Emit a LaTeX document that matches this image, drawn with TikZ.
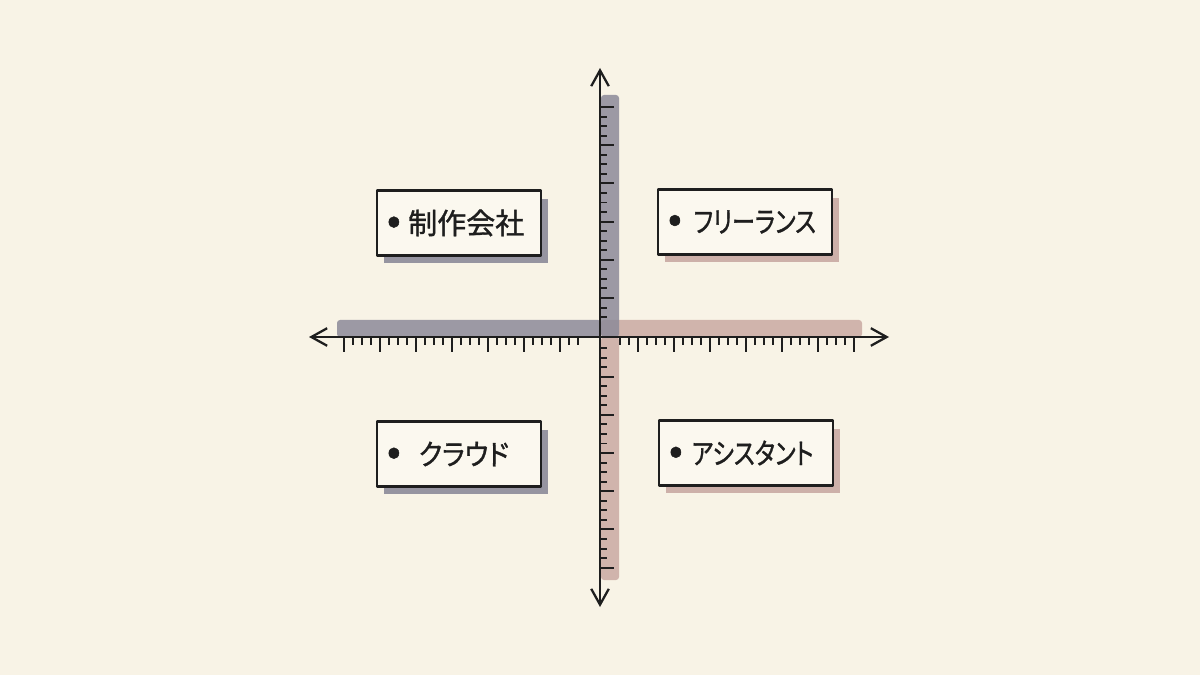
\documentclass[tikz,border=0pt]{standalone}
\usepackage{fontspec}
\newfontfamily\jp[RawFeature=+palt, AutoFakeBold=1.2]{Noto Sans CJK JP}
\usetikzlibrary{arrows.meta,shadows,positioning}
\definecolor{paper}{HTML}{F8F3E6}
\definecolor{card}{HTML}{FBF8EF}
\definecolor{ink}{HTML}{1E1E1E}
\definecolor{slate}{HTML}{8C8A99}
\definecolor{rose}{HTML}{C9A9A3}
\newcommand\narrow[2]{\scalebox{#1}[1]{#2}}
\newcommand\dotmark{{\fontsize{23}{20}\selectfont•}}
\tikzset{
	quad chart/.style={x=0.02cm, y=-0.02cm, line join=round},
	ax/.style={draw=ink, line width=1.3pt,
		{Straight Barb[length=9pt,width=10pt]}-{Straight Barb[length=9pt,width=10pt]}},
	tk/.style={draw=ink, line width=1.1pt},
	band/.style={fill=#1, opacity=.85, rounded corners=0.06cm},
	tag/.style={draw=ink, line width=1.2pt, fill=card, text=ink,
		font=\jp\bfseries\fontsize{16.5}{20}\selectfont,
		minimum height=1.3cm, inner xsep=0.2cm, align=left,
		drop shadow={fill=#1, opacity=.9, shadow xshift=0.14cm, shadow yshift=-0.16cm}},
	tag left/.style={tag=#1, text width=2.88cm},
	tag right/.style={tag=#1, text width=3.08cm}
}
\begin{document}
\begin{tikzpicture}[quad chart]
	\fill[paper] (0,0) rectangle (1200,675);
	\useasboundingbox (0,0) rectangle (1200,675);
	\coordinate (O) at (600,337);
	\coordinate (xl) at (309,337);
	\coordinate (xr) at (889,337);
	\coordinate (yt) at (600,68);
	\coordinate (yb) at (600,607);
	% washes behind the axes
	\fill[band=slate] (337,320) rectangle (601,337);
	\fill[band=rose] (601,320) rectangle (862,337);
	\fill[band=slate] (601,95) rectangle (619,337);
	\fill[band=rose] (601,337) rectangle (619,580);
	\draw[ax] (xl) -- (xr);
	\draw[ax] (yt) -- (yb);
	\foreach \i in {0,...,26} {
		\pgfmathsetmacro\len{ifthenelse(mod(\i,4)==0,15,8)}
		\draw[tk] (344+9*\i,337) -- ++(0,\len);
		\pgfmathsetmacro\len{ifthenelse(mod(\i+2,4)==0,15,8)}
		\draw[tk] (620+9*\i,337) -- ++(0,\len);
	}
	\foreach \i in {0,...,22} {
		\pgfmathsetmacro\len{ifthenelse(mod(\i,4)==0,14,7)}
		\draw[tk] (600,107+9.55*\i) -- ++(\len,0);
	}
	\foreach \i in {0,...,23} {
		\pgfmathsetmacro\len{ifthenelse(mod(\i+1,4)==0,14,7)}
		\draw[tk] (600,348+9.55*\i) -- ++(\len,0);
	}
	\node[tag left=slate] (cmp) at (459,223) {\mbox{\dotmark\hspace{0.15cm}制作会社}};
	\node[tag right=rose] (fre) at (745,222) {\mbox{\dotmark\hspace{0.24cm}\narrow{.8}{フリーランス}}};
	\node[tag left=slate] (crd) at (459,454) {\mbox{\dotmark\hspace{0.36cm}\narrow{.9}{クラウド}}};
	\node[tag right=rose] (ast) at (746,453) {\mbox{\dotmark\hspace{0.18cm}\narrow{.8}{アシスタント}}};
\end{tikzpicture}
\end{document}
